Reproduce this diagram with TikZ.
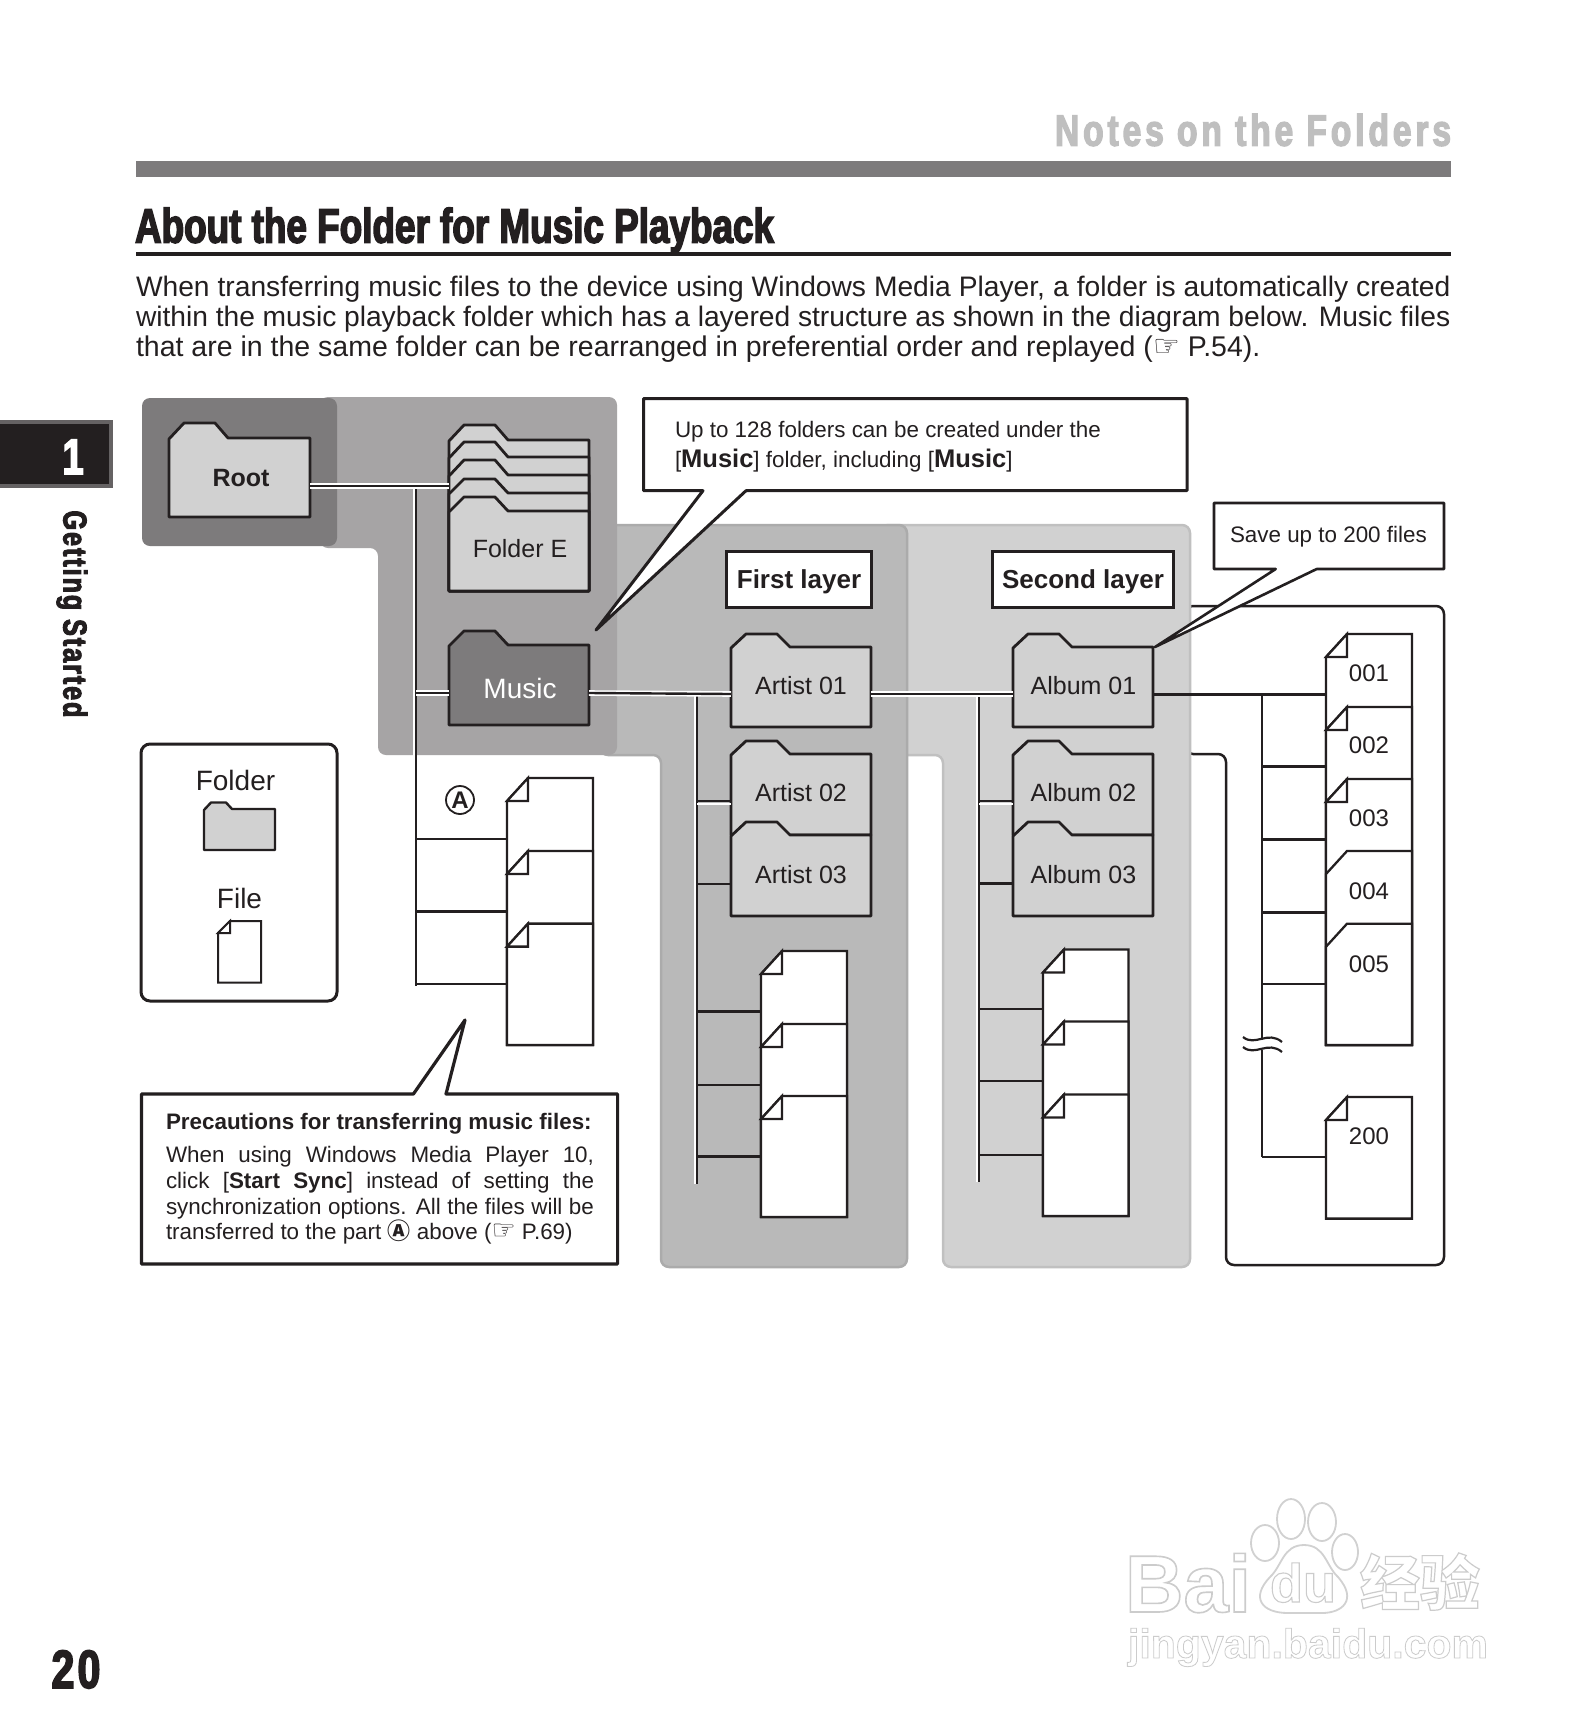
\documentclass[tikz,border=0pt]{standalone}
\usepackage{fontspec}
\setmainfont{Liberation Sans}
\newfontfamily\impactf[FakeStretch=0.76,FakeBold=3]{Liberation Sans}
\newfontfamily\impactg[FakeStretch=0.76,FakeBold=3,LetterSpace=9]{Liberation Sans}
\newfontfamily\impacth[FakeStretch=0.76,FakeBold=3,LetterSpace=6]{Liberation Sans}
\newfontfamily\dvf{DejaVu Sans}
\newfontfamily\cjkf{Noto Sans CJK SC}
\newfontfamily\wmf[FakeBold=2]{Liberation Sans}
\newfontfamily\wmcjk[FakeBold=2]{Noto Sans CJK SC}
\definecolor{ink}{HTML}{231F20}
\definecolor{dkgray}{HTML}{7D7B7C}
\definecolor{midgray}{HTML}{A6A4A5}
\definecolor{layerA}{HTML}{B9B9B9}
\definecolor{layerAb}{HTML}{ABABAB}
\definecolor{layerB}{HTML}{D1D1D1}
\definecolor{layerBb}{HTML}{C0C0C0}
\definecolor{notes}{HTML}{BFBFBF}
\newcommand\fs[1]{\fontsize{#1}{#1}\selectfont}
\tikzset{
  x=1pt,y=-1pt,
  every node/.style={inner sep=0,outer sep=0,text=ink},
  basetxt/.style={anchor=base,font=\fs{25}},
  leftxt/.style={anchor=base west},
  conn/.style={minimum height=0,minimum width=0,inner sep=0,outer sep=0},
  folderline/.style={draw=ink,line width=2.8,line join=round},
  fileline/.style={draw=ink,line width=2.3,line join=miter,fill=white},
  wire/.style={draw=white,line width=1.6,double=ink,double distance=2.4},
  branch/.style={draw=ink,line width=2.2},
  callout/.style={draw=ink,fill=white,line width=3,line join=round},
  panel/.style={rounded corners=8,line width=2.5},
  layerbox/.style={draw=ink,fill=white,line width=3,text height=20,text depth=2,font=\bfseries\fs{26}},
}
% name, x1, x2, tab, body, bottom, fill, connector y
\newcommand\foldr[8]{%
  \path[folderline,fill=#7] (#2,#6) -- (#2,#5+1) -- (#2+15,#4) -- (#2+46,#4) -- (#2+59,#5) -- (#3,#5) -- (#3,#6) -- cycle;
  \pgfmathsetmacro\nw{#3-#2}\pgfmathsetmacro\nc{(#2+#3)/2}
  \node[conn,minimum width=\nw pt] (#1) at (\nc,#8) {};
}
% name, x1, x2, top, bottom, connector y, fold kind: 1 with fold, 0 only slant
\newcommand\filebox[7]{%
  \path[fileline] (#2,#5) -- (#2,#4+23) -- (#2+21,#4) -- (#3,#4) -- (#3,#5) -- cycle;
  \ifnum#7=1 \path[fileline] (#2+21,#4) -- (#2+21,#4+23) -- (#2,#4+23) -- cycle;\fi
  \pgfmathsetmacro\nw{#3-#2}\pgfmathsetmacro\nc{(#2+#3)/2}
  \node[conn,minimum width=\nw pt] (#1) at (\nc,#6) {};
}
\begin{document}
\begin{tikzpicture}
\path[use as bounding box,fill=white] (0,0) rectangle (1587,1735);

% page furniture
\node[anchor=base east,font=\impactg\bfseries\fs{44},text=notes] (notes) at (1451,145.7) {Notes on the Folders};
\fill[dkgray] (136,161) rectangle (1450.5,177);
\node[anchor=base west,font=\impactf\bfseries\fs{48.5}] (title) at (135,242.7) {About the Folder for Music Playback};
\fill[ink] (136,252) rectangle (1450.5,255.7);
\node[leftxt,font=\fs{28.2}] (p1) at (136,296) {\makebox[1314.5pt][s]{When transferring music files to the device using Windows Media Player, a folder is automatically created}};
\node[leftxt,font=\fs{28.2}] (p2) at (136,326) {\makebox[1314.5pt][s]{within the music playback folder which has a layered structure as shown in the diagram below. Music files}};
\node[leftxt,font=\fs{28.5}] (p3) at (136,356) {that are in the same folder can be rearranged in preferential order and replayed ({\dvf\fs{30}☞} P.54).};

% chapter tab
\path[fill=ink,draw=ink!70!white,line width=3.5] (-5,422) rectangle (111,486);
\node[anchor=base,font=\impactf\bfseries\fs{50},text=white] (chapnum) at (73,474) {1};
\node[rotate=-90,font=\impacth\bfseries\fs{33}] (chap) at (72,614) {Getting Started};
\node[anchor=base,font=\impacth\bfseries\fs{54}] (pageno) at (76,1688) {20};

% panels
\path[panel,draw=ink,fill=white] (1185,606) -- (1444,606) -- (1444,1265) -- (1226,1265) -- (1226,754) -- (1185,754) -- cycle;
\path[panel,fill=layerB,draw=layerBb] (880,525) -- (1190,525) -- (1190,1267) -- (943,1267) -- (943,755) -- (880,755) -- cycle;
\path[panel,fill=layerA,draw=layerAb] (600,525) -- (907,525) -- (907,1267) -- (661,1267) -- (661,755) -- (600,755) -- cycle;
\path[rounded corners=8,fill=midgray] (320,397) -- (617,397) -- (617,755) -- (378,755) -- (378,548) -- (320,548) -- cycle;
\path[rounded corners=8,fill=dkgray] (142,398) rectangle (337,546);

% anchors for the trunks
\coordinate (t1a) at (416,486);
\coordinate (t1b) at (416,986);
\coordinate (t2a) at (697,694);
\coordinate (t2b) at (697,1184);
\coordinate (t3a) at (979,694);
\coordinate (t3b) at (979,1182);
\coordinate (t4a) at (1262,694);
\coordinate (t4b) at (1262,1157);

% trunks
\foreach \a/\b in {t1a/t1b,t2a/t2b,t3a/t3b}{
  \draw[white,line width=2] ([xshift=-2]\a) -- ([xshift=-2]\b);
  \draw[ink,line width=2.2] (\a) -- (\b);
}
\draw[ink,line width=2.4] (t4a) -- (t4b);

% folders
\foldr{root}{169}{310}{423}{438}{517}{layerB}{486}
\foldr{fa}{449}{589}{425}{440}{591}{layerB}{486}
\foldr{fb}{449}{589}{442}{457}{591}{layerB}{486}
\foldr{fc}{449}{589}{460}{475}{591}{layerB}{486}
\foldr{fd}{449}{589}{479}{493}{591}{layerB}{486}
\foldr{stack}{449}{589}{497}{511}{591}{layerB}{486}
\foldr{music}{449}{589}{631}{645}{725}{dkgray}{693}
\foldr{art1}{731}{871}{634}{647}{727}{layerB}{694}
\foldr{art2}{731}{871}{741}{754}{835}{layerB}{801}
\foldr{art3}{731}{871}{822}{835}{916}{layerB}{884}
\foldr{alb1}{1013}{1153}{634}{647}{727}{layerB}{694}
\foldr{alb2}{1013}{1153}{741}{754}{835}{layerB}{801}
\foldr{alb3}{1013}{1153}{822}{835}{916}{layerB}{883}

% folder connectors
\draw[wire] (root.east) -- (stack.west);
\draw[wire] (t1a |- music.west) -- (music.west);
\draw[wire] (music.east) -- (art1.west);
\draw[wire] (art1.east) -- (alb1.west);
\draw[white,line width=2] ([yshift=-2.5]t2a |- art2.west) -- ([yshift=-2.5]art2.west);
\draw[ink,line width=2.2] (t2a |- art2.west) -- (art2.west);
\draw[ink,line width=2.6] (t2a |- art3.west) -- (art3.west);
\draw[white,line width=2] ([yshift=-2.5]t3a |- alb2.west) -- ([yshift=-2.5]alb2.west);
\draw[ink,line width=2.2] (t3a |- alb2.west) -- (alb2.west);
\draw[ink,line width=3] (t3a |- alb3.west) -- (alb3.west);

% folder labels
\node[basetxt,font=\bfseries\fs{25}] (lroot) at (241,486) {Root};
\node[basetxt] (lstack) at (520,557.7) {Folder E};
\node[basetxt,font=\fs{28},text=white] (lmusic) at (520,698) {Music};
\node[basetxt] (lart1) at (801,694) {Artist 01};
\node[basetxt] (lart2) at (801,801) {Artist 02};
\node[basetxt] (lart3) at (801,883.6) {Artist 03};
\node[basetxt] (lalb1) at (1083.5,694) {Album 01};
\node[basetxt] (lalb2) at (1083.5,801) {Album 02};
\node[basetxt] (lalb3) at (1083.5,883.6) {Album 03};

% layer titles
\node[layerbox,minimum width=145pt,minimum height=56pt] (first) at (799,579) {First layer};
\node[layerbox,minimum width=181pt,minimum height=56pt] (second) at (1083,579) {Second layer};

% files A
\filebox{a1}{507}{593}{778}{1045}{839}{1}
\filebox{a2}{507}{593}{851}{1045}{911.4}{1}
\filebox{a3}{507}{593}{923.6}{1045}{984}{1}
\draw[branch] (t1a |- a1.west) -- (a1.west);
\draw[line width=2.8,ink] (t1a |- a2.west) -- (a2.west);
\draw[branch] (t1a |- a3.west) -- (a3.west);
\node[draw=ink,circle,line width=1.8,minimum size=28pt,font=\bfseries\fs{24}] (markA) at (460,800) {A};

% files first layer
\filebox{b1}{761}{847}{951}{1217}{1011.5}{1}
\filebox{b2}{761}{847}{1024}{1217}{1085}{1}
\filebox{b3}{761}{847}{1096}{1217}{1156.5}{1}
\draw[branch] (t2a |- b1.west) -- (b1.west);
\draw[branch] (t2a |- b2.west) -- (b2.west);
\draw[branch] (t2a |- b3.west) -- (b3.west);

% files second layer
\filebox{c1}{1043}{1128.5}{949.5}{1216}{1009}{1}
\filebox{c2}{1043}{1128.5}{1021.5}{1216}{1081}{1}
\filebox{c3}{1043}{1128.5}{1094.5}{1216}{1155}{1}
\draw[branch] (t3a |- c1.west) -- (c1.west);
\draw[branch] (t3a |- c2.west) -- (c2.west);
\draw[branch] (t3a |- c3.west) -- (c3.west);

% files of the album
\filebox{d1}{1326}{1412}{634}{1045}{694}{1}
\filebox{d2}{1326}{1412}{707}{1045}{766.5}{1}
\filebox{d3}{1326}{1412}{779}{1045}{839.5}{1}
\filebox{d4}{1326}{1412}{851}{1045}{912.5}{0}
\filebox{d5}{1326}{1412}{923.7}{1045}{984}{0}
\filebox{d9}{1326}{1412}{1097}{1218.6}{1157}{1}
\draw[ink,line width=3] (alb1.east) -- (d1.west);
\draw[ink,line width=3] (t4a |- d2.west) -- (d2.west);
\draw[branch] (t4a |- d3.west) -- (d3.west);
\draw[branch] (t4a |- d4.west) -- (d4.west);
\draw[branch] (t4a |- d5.west) -- (d5.west);
\draw[ink,line width=2.4] (t4a |- d9.west) -- (d9.west);
\node[basetxt,font=\fs{24}] (l1) at (1369,681) {001};
\node[basetxt,font=\fs{24}] (l2) at (1369,753.8) {002};
\node[basetxt,font=\fs{24}] (l3) at (1369,826) {003};
\node[basetxt,font=\fs{24}] (l4) at (1369,899) {004};
\node[basetxt,font=\fs{24}] (l5) at (1369,972) {005};
\node[basetxt,font=\fs{24}] (l9) at (1369,1144.6) {200};
% break in the trunk
\fill[white] (1255,1040) rectangle (1270,1050);
\draw[ink,line width=2.2] (1243,1037) .. controls (1255,1047) and (1268,1030) .. (1282,1042);
\draw[ink,line width=2.2] (1243,1047) .. controls (1255,1057) and (1268,1040) .. (1282,1052);

% legend
\path[draw=ink,fill=white,line width=3,rounded corners=9] (141,744) rectangle (337,1001);
\node[basetxt,font=\fs{28}] (lfolder) at (235.5,790.7) {Folder};
\path[folderline,fill=layerB,line width=2.4] (204,850) -- (204,810) -- (211,802.5) -- (226,802.5) -- (232,809) -- (275,809) -- (275,850) -- cycle;
\node[basetxt,font=\fs{28}] (lfile) at (239.5,908.6) {File};
\path[fileline,line width=2] (218,982.5) -- (218,933) -- (230,921) -- (261,921) -- (261,982.5) -- cycle;
\path[fileline,line width=2] (230,921) -- (230,933) -- (218,933) -- cycle;

% callouts
\path[callout] (643.6,398.6) -- (1187,398.6) -- (1187,490.7) -- (746,490.7) -- (596,630) -- (703,490.7) -- (643.6,490.7) -- cycle;
\node[leftxt,font=\fs{22.4}] (ct1) at (675,437) {Up to 128 folders can be created under the};
\node[leftxt,font=\fs{22.4}] (ct2) at (675,467.5) {[{\bfseries\fs{25.5}Music}] folder, including [{\bfseries\fs{25.5}Music}]};

\path[callout,line width=2.6] (1214,503) -- (1444,503) -- (1444,569) -- (1316.7,569) -- (1155,647) -- (1275.7,569) -- (1214,569) -- cycle;
\node[leftxt,font=\fs{22.4}] (cs) at (1230,542.5) {Save up to 200 files};

\path[callout,line width=3.2] (141.5,1094) -- (413.4,1094) -- (465,1020) -- (446,1094) -- (617.6,1094) -- (617.6,1264) -- (141.5,1264) -- cycle;
\node[leftxt,font=\bfseries\fs{22.4}] (cp0) at (166,1129) {Precautions for transferring music files:};
\node[leftxt,font=\fs{22.4}] (cp1) at (166,1162) {\makebox[428pt][s]{When using Windows Media Player 10,}};
\node[leftxt,font=\fs{22.4}] (cp2) at (166,1188) {\makebox[428pt][s]{click [{\bfseries Start Sync}] instead of setting the}};
\node[leftxt,font=\fs{22.4}] (cp3) at (166,1214) {\makebox[428pt][s]{synchronization options. All the files will be}};
\node[leftxt,font=\fs{22.4}] (cp4) at (166,1239) {transferred to the part {\cjkf\bfseries\fs{23}Ⓐ} above ({\dvf\fs{27}☞} P.69)};

% watermark
\begin{scope}[draw=black!18,fill=white,line width=1.8]
\path[draw,fill] (1265,1543) ellipse [x radius=14,y radius=18];
\path[draw,fill] (1291,1519) ellipse [x radius=14,y radius=20];
\path[draw,fill] (1322,1522) ellipse [x radius=14,y radius=19];
\path[draw,fill] (1345,1552) ellipse [x radius=13,y radius=18];
\path[draw,fill] (1304,1545) .. controls (1325,1545) and (1326,1566) .. (1338,1577) .. controls (1358,1600) and (1342,1613) .. (1322,1613) -- (1288,1613) .. controls (1262,1613) and (1250,1598) .. (1270,1577) .. controls (1282,1566) and (1283,1545) .. (1304,1545) -- cycle;
\end{scope}
\node[anchor=base west,font=\wmf\bfseries\fs{81}] (wm1) at (1125,1612) {\special{pdf:bcolor [1] [0.8]}Bai\special{pdf:ecolor}};
\node[anchor=base west,font=\wmf\bfseries\fs{54}] (wm2) at (1270,1602) {\special{pdf:bcolor [1] [0.8]}du\special{pdf:ecolor}};
\node[anchor=base west,font=\wmcjk\bfseries\fs{60}] (wm3) at (1360,1605) {\special{pdf:bcolor [1] [0.8]}经验\special{pdf:ecolor}};
\node[anchor=base west,font=\wmf\bfseries\fs{41}] (wm4) at (1128,1658) {\special{pdf:bcolor [1] [0.8]}jingyan.baidu.com\special{pdf:ecolor}};
\end{tikzpicture}
\end{document}
